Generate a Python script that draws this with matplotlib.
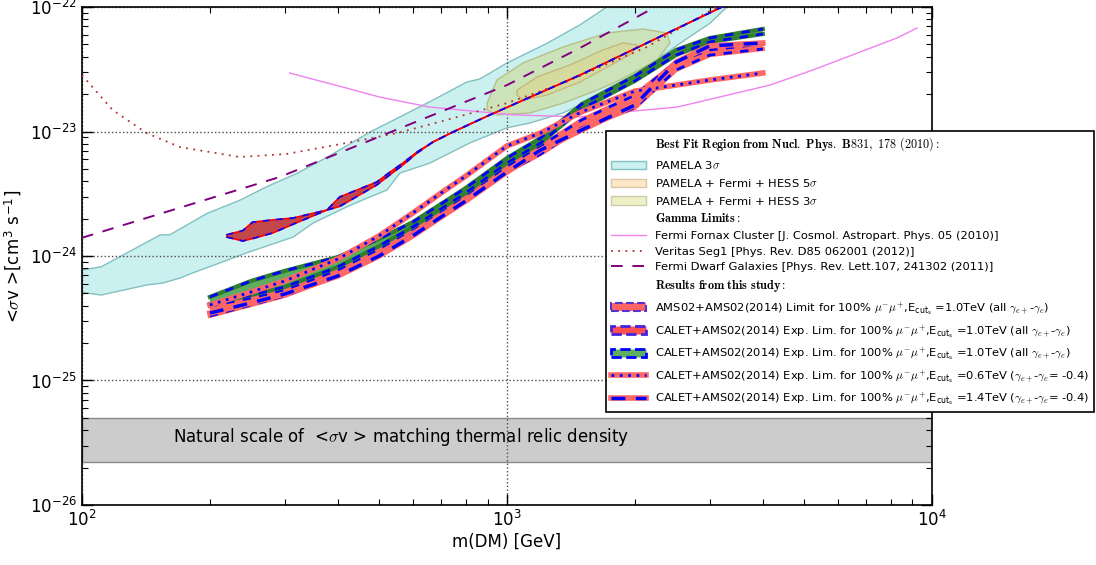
import matplotlib
matplotlib.use("Agg")
import matplotlib.pyplot as plt
from matplotlib.patches import Patch
from matplotlib.lines import Line2D

plt.rcParams['mathtext.fontset'] = 'cm'
plt.rcParams['font.family'] = 'DejaVu Sans'

# ---- PAMELA 3 sigma region (upper edge left->right, lower edge right->left)
pamela_m = [100, 111, 153, 161, 197, 235, 272, 320, 377, 476, 560, 670, 805, 863,
            1000, 1241, 1486, 1718, 1900, 3500,
            3293, 3003, 2552, 2378, 1946, 1630, 1355, 1133, 1000, 818, 659, 560,
            522, 458, 420, 350, 314, 244, 211, 182, 170, 155, 142, 111, 100]
pamela_sv = [7.7e-25, 8.2e-25, 1.48e-24, 1.48e-24, 2.2e-24, 2.8e-24, 3.6e-24, 4.6e-24,
             6.2e-24, 9.9e-24, 1.31e-23, 1.79e-23, 2.5e-23, 2.64e-23, 3.55e-23, 5.1e-23,
             7.2e-23, 1.0e-22, 1.3e-22, 1.3e-22,
             1.0e-22, 7.4e-23, 5.1e-23, 4.3e-23, 2.74e-23, 1.89e-23, 1.41e-23, 1.17e-23,
             1.07e-23, 8.1e-24, 5.58e-24, 4.64e-24, 3.39e-24, 2.82e-24, 2.48e-24, 1.84e-24,
             1.42e-24, 1.06e-24, 8.8e-25, 7.3e-25, 6.65e-25, 6.07e-25, 5.85e-25, 4.86e-25,
             5.1e-25]

# PAMELA + Fermi + HESS 5 sigma / 3 sigma contours
pfh5_m = [898, 947, 1091, 1355, 1718, 2089, 2378, 2419, 2254, 1845, 1630, 1355, 1133, 947, 898]
pfh5_sv = [1.69e-23, 2.59e-23, 3.55e-23, 4.77e-23, 6.18e-23, 6.66e-23, 6.18e-23, 5.14e-23,
           3.75e-23, 2.59e-23, 2.15e-23, 1.69e-23, 1.41e-23, 1.36e-23, 1.49e-23]
pfh3_m = [1056, 1178, 1406, 1683, 1875, 2023, 1978, 1845, 1486, 1241, 1091, 1056]
pfh3_sv = [2.15e-23, 2.74e-23, 3.42e-23, 4.52e-23, 5.14e-23, 4.95e-23, 4.27e-23, 3.75e-23,
           2.5e-23, 1.96e-23, 1.79e-23, 1.96e-23]

# ---- gamma-ray limits
fornax_m = [308, 420, 502, 659, 863, 1033, 1486, 1774, 2512, 4159, 5248, 8276, 9226]
fornax_sv = [2.95e-23, 2.23e-23, 1.89e-23, 1.57e-23, 1.44e-23, 1.36e-23, 1.31e-23, 1.41e-23,
             1.57e-23, 2.36e-23, 3.12e-23, 5.64e-23, 6.78e-23]

seg1_m = [100, 118, 142, 170, 235, 303, 420, 551, 722, 1000, 1355, 2133, 3118]
seg1_sv = [2.84e-23, 1.49e-23, 9.7e-24, 7.5e-24, 6.24e-24, 6.6e-24, 8.1e-24, 9.7e-24,
           1.24e-23, 1.69e-23, 2.45e-23, 4.77e-23, 1.0e-22]

dwarf_m = [100, 292, 601, 1000, 1486, 2167, 2400]
dwarf_sv = [1.40e-24, 4.31e-24, 1.17e-23, 2.36e-23, 4.69e-23, 9.46e-23, 1.15e-22]

# ---- this study
ams_m = [219, 239, 252, 281, 314, 377, 404, 494, 531, 569, 614, 670, 746, 912, 1486, 3300]
ams_up = [1.48e-24, 1.6e-24, 1.87e-24, 1.95e-24, 2.02e-24, 2.34e-24, 2.98e-24, 3.93e-24,
          4.73e-24, 5.58e-24, 6.84e-24, 8.24e-24, 9.9e-24, 1.36e-23, 2.84e-23, 1.05e-22]
ams_lo = [1.42e-24, 1.32e-24, 1.38e-24, 1.53e-24, 1.8e-24, 2.34e-24, 2.5e-24, 3.72e-24,
          4.5e-24, 5.38e-24, 6.7e-24, 8.24e-24, 9.9e-24, 1.36e-23, 2.84e-23, 1.05e-22]

mass = [200, 250, 300, 400, 500, 600, 700, 800, 1000, 1200, 1500, 2000, 2500, 3000, 4000]
green_up = [4.69e-25, 6.3e-25, 7.6e-25, 9.8e-25, 1.37e-24, 1.87e-24, 2.62e-24, 3.52e-24,
            6.12e-24, 8.87e-24, 1.66e-23, 2.79e-23, 4.52e-23, 5.63e-23, 6.66e-23]
green_lo = [4.12e-25, 4.86e-25, 5.64e-25, 8.17e-25, 1.2e-24, 1.71e-24, 2.39e-24, 3.21e-24,
            5.58e-24, 8.09e-24, 1.52e-23, 2.55e-23, 4.11e-23, 5.24e-23, 6.07e-23]
red_up = [3.97e-25, 4.6e-25, 5.33e-25, 7.72e-25, 1.14e-24, 1.65e-24, 2.3e-24, 3.09e-24,
          5.28e-24, 7.66e-24, 1.24e-23, 1.96e-23, 3.61e-23, 4.52e-23, 5.05e-23]
red_lo = [3.3e-25, 4.04e-25, 4.78e-25, 6.91e-25, 1.02e-24, 1.5e-24, 2.09e-24, 2.82e-24,
          4.73e-24, 6.59e-24, 1.07e-23, 1.55e-23, 3.12e-23, 4.11e-23, 4.6e-23]
ecut06 = [4.04e-25, 5.14e-25, 6.3e-25, 9.46e-25, 1.45e-24, 2.21e-24, 3.21e-24, 4.39e-24,
          7.66e-24, 9.73e-24, 1.44e-23, 2.11e-23, 2.36e-23, 2.59e-23, 2.95e-23]
ecut14 = [3.48e-25, 4.2e-25, 4.95e-25, 6.91e-25, 1.0e-24, 1.45e-24, 2.06e-24, 2.77e-24,
          4.73e-24, 7.1e-24, 1.03e-23, 1.63e-23, 3.61e-23, 4.87e-23, 5.14e-23]

relic_band = (2.2e-26, 5.0e-26)

fig = plt.figure(figsize=(10.96, 5.65), dpi=100)
ax = fig.add_axes([0.0748, 0.1062, 0.7755, 0.8814])

# best fit regions
ax.fill(pamela_m, pamela_sv, facecolor='#caf0ef', edgecolor='#84c0bf', lw=1, zorder=1)
ax.fill(pfh5_m, pfh5_sv, facecolor='#cce3b9', edgecolor='#b5c08a', lw=1, zorder=2)
ax.fill(pfh3_m, pfh3_sv, facecolor='#d5db9f', edgecolor='#c4b97c', lw=1, zorder=2)

# relic density band
ax.axhspan(relic_band[0], relic_band[1], facecolor='#cccccc', edgecolor='#888888', lw=1, zorder=1)
ax.text(0.376, 0.137, r'Natural scale of  <$\sigma$v > matching thermal relic density',
        transform=ax.transAxes, ha='center', va='center', fontsize=12, zorder=3)

# gamma limits
ax.plot(fornax_m, fornax_sv, color='violet', lw=1, zorder=3)
ax.plot(seg1_m, seg1_sv, color='#b03030', lw=1.3, ls=(0, (1, 3)), zorder=3)
ax.plot(dwarf_m, dwarf_sv, color='purple', lw=1.4, ls=(0, (6, 5)), zorder=3)

# AMS02 limit band
ax.fill_between(ams_m, ams_lo, ams_up, facecolor='#c2474a', lw=0, zorder=4)
for edge in (ams_up, ams_lo):
    ax.plot(ams_m, edge, color='red', lw=1.2, zorder=4)
    ax.plot(ams_m, edge, color='blue', lw=1.2, ls=(0, (4, 4)), zorder=4)

# CALET expected bands
ax.fill_between(mass, red_lo, red_up, facecolor='#ff6666', lw=0, zorder=5)
for edge in (red_up, red_lo):
    ax.plot(mass, edge, color='#ff6666', lw=3, zorder=5)
    ax.plot(mass, edge, color='blue', lw=2, ls=(0, (3, 3)), zorder=5)
ax.fill_between(mass, green_lo, green_up, facecolor='#5fae5f', lw=0, zorder=6)
for edge in (green_up, green_lo):
    ax.plot(mass, edge, color='#2f7f2f', lw=3, zorder=6)
    ax.plot(mass, edge, color='blue', lw=2, ls=(0, (3, 3)), zorder=6)
ax.plot(mass, ecut06, color='#ff6666', lw=4, zorder=7)
ax.plot(mass, ecut06, color='blue', lw=2, ls=(0, (1, 2)), zorder=7)
ax.plot(mass, ecut14, color='#ff6666', lw=4, zorder=7)
ax.plot(mass, ecut14, color='blue', lw=2.5, ls=(0, (4, 3)), zorder=7)

ax.set_xscale('log')
ax.set_yscale('log')
ax.set_xlim(100, 1e4)
ax.set_ylim(1e-26, 1e-22)
ax.set_xlabel('m(DM) [GeV]', fontsize=12, labelpad=2)
ax.set_ylabel(r'<$\sigma$v >[cm$^{\mathdefault{3}}$ s$^{\mathdefault{-1}}$]', fontsize=12)
ax.tick_params(which='both', direction='in', top=True, right=True, labelsize=12)
ax.tick_params(which='major', length=8, width=1)
ax.tick_params(which='minor', length=4, width=0.8)
ax.grid(True, which='major', color='0.3', ls=':', lw=1)
for s in ax.spines.values():
    s.set_linewidth(1.2)

# legend
blank = Line2D([], [], ls='none')
handles = [
    blank,
    Patch(facecolor='#caf0ef', edgecolor='#84c0bf'),
    Patch(facecolor='#fde8c8', edgecolor='#d8c8a8'),
    Patch(facecolor='#eef0c8', edgecolor='#ccccaa'),
    blank,
    Line2D([], [], color='violet', lw=1),
    Line2D([], [], color='#b03030', lw=1.3, ls=(0, (1, 3))),
    Line2D([], [], color='purple', lw=1.4, ls=(0, (6, 5))),
    blank,
    Patch(facecolor='#ff6464', edgecolor='#5533cc', ls='--', lw=1.5),
    Patch(facecolor='#ff5050', edgecolor='#4422dd', ls='--', lw=2),
    Patch(facecolor='#5fae5f', edgecolor='blue', ls='--', lw=2),
    (Line2D([], [], color='#ff6666', lw=4), Line2D([], [], color='blue', lw=2, ls=(0, (1, 2)))),
    (Line2D([], [], color='#ff6666', lw=4), Line2D([], [], color='blue', lw=2.5, ls=(0, (4, 3)))),
]
tail = r'$\mu^{-}\mu^{+}$,$\mathdefault{E_{cut_{s}}}$'
labels = [
    r'$\mathbf{Best\ Fit\ Region\ from\ Nucl.\ Phys.\ B}\mathrm{831,\ 178\ (2010):}$',
    r'PAMELA 3$\sigma$',
    r'PAMELA + Fermi + HESS 5$\sigma$',
    r'PAMELA + Fermi + HESS 3$\sigma$',
    r'$\mathbf{Gamma\ Limits}\mathrm{:}$',
    'Fermi Fornax Cluster [J. Cosmol. Astropart. Phys. 05 (2010)]',
    'Veritas Seg1 [Phys. Rev. D85 062001 (2012)]',
    'Fermi Dwarf Galaxies [Phys. Rev. Lett.107, 241302 (2011)]',
    r'$\mathbf{Results\ from\ this\ study}\mathrm{:}$',
    'AMS02+AMS02(2014) Limit for 100% ' + tail + r' =1.0TeV (all $\gamma_{e+}$-$\gamma_{e}$)',
    'CALET+AMS02(2014) Exp. Lim. for 100% ' + tail + r' =1.0TeV (all $\gamma_{e+}$-$\gamma_{e}$)',
    'CALET+AMS02(2014) Exp. Lim. for 100% ' + tail + r' =1.0TeV (all $\gamma_{e+}$-$\gamma_{e}$)',
    'CALET+AMS02(2014) Exp. Lim. for 100% ' + tail + r' =0.6TeV ($\gamma_{e+}$-$\gamma_{e}$= -0.4)',
    'CALET+AMS02(2014) Exp. Lim. for 100% ' + tail + r' =1.4TeV ($\gamma_{e+}$-$\gamma_{e}$= -0.4)',
]
leg = ax.legend(handles, labels, loc='upper left', bbox_to_anchor=(606 / 1096, 1 - 131 / 565),
                bbox_transform=fig.transFigure, fontsize=8.25, handlelength=3.1,
                fancybox=False, framealpha=1, edgecolor='black', borderaxespad=0)
leg.get_frame().set_linewidth(1.2)
leg.set_zorder(10)
for i in (0, 4, 8):
    leg.get_texts()[i].set_fontsize(8.8)

fig.savefig('out.png', dpi=100)
